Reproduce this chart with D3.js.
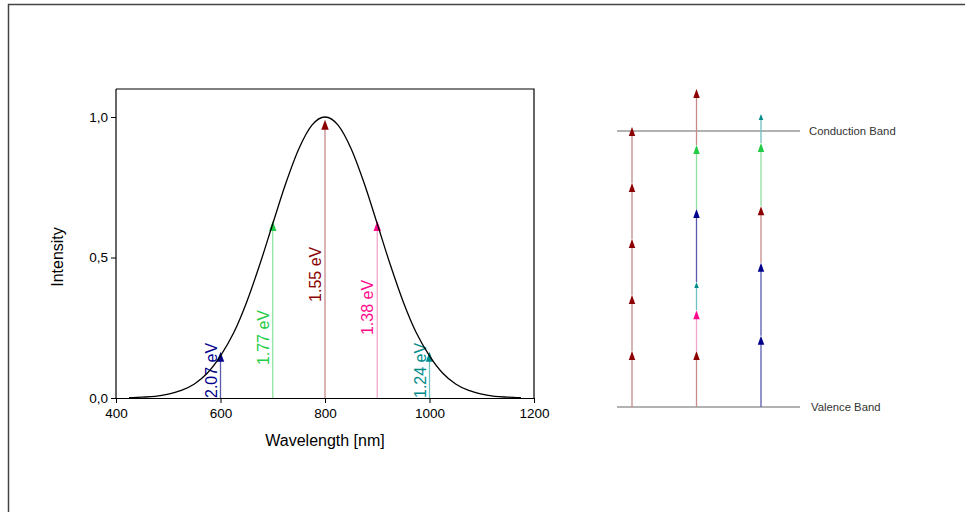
<!DOCTYPE html>
<html><head><meta charset="utf-8">
<script src="https://cdn.jsdelivr.net/npm/d3@7"></script>
<style>body{margin:0;background:#fff}svg{display:block;font-family:"Liberation Sans",Arial,sans-serif}</style>
</head><body><svg id="c" width="965" height="512"></svg>
<script>
// Spectrum curve
const wavelengths = [425,450,475,500,525,550,575,600,625,650,675,700,725,750,775,800,825,850,875,900,925,950,975,1000,1025,1050,1075,1100,1125,1150,1175];
const intensity   = [0.001,0.003,0.006,0.014,0.027,0.050,0.089,0.150,0.231,0.341,0.474,0.620,0.764,0.887,0.971,1.0,0.971,0.887,0.764,0.620,0.474,0.341,0.231,0.150,0.089,0.050,0.027,0.014,0.006,0.003,0.001];
// Arrows in the spectrum
const arrowWl     = [600,700,800,900,1000];
const arrowTip    = [0.165,0.63,0.99,0.63,0.165];
const arrowLabels = ["2.07 eV","1.77 eV","1.55 eV","1.38 eV","1.24 eV"];
const arrowLabelAt= [0.0,0.117,0.342,0.224,0.0];
const arrowColors = ["#00008b","#22cc44","#8b0000","#ff0a8c","#008b8b"];
const lineColors  = ["#5a5ab0","#8fe0a0","#c98a8a","#f0a6cc","#70c0c0"];
const xTicks = [400,600,800,1000,1200];
const yTicks = [0,0.5,1.0];
const yTickLabels = ["0,0","0,5","1,0"];
// Band diagram (energy in eV above valence band)
const bandGap = 7.64;
const bandNames = ["Valence Band","Conduction Band"];
const columns = [0,1,2];
const col1Tips = [1.55,3.10,4.65,6.20,7.75];
const col1Colors = [2,2,2,2,2];
const col2Tips = [1.55,2.68,3.46,5.48,7.25,8.80];
const col2Colors = [2,3,4,0,1,2];
const col3Tips = [1.97,3.99,5.56,7.31,8.11];
const col3Colors = [0,0,2,1,4];

const svg = d3.select("#c");
svg.append("path").attr("d","M8.5,512 V4.5 H965").attr("fill","none").attr("stroke","#444").attr("stroke-width",1.5);

const x = d3.scaleLinear().domain([400,1200]).range([116,534]);
const y = d3.scaleLinear().domain([0,1.0]).range([398,117]);
const yTop = y.invert(89);

const g = svg.append("g");
g.append("path").attr("d",`M${x(400)},${y(yTop)} H${x(1200)} V${y(0)}`).attr("fill","none").attr("stroke","#000").attr("stroke-width",1.2);

const xAxis = g.append("g").attr("transform",`translate(0,${y(0)})`)
  .call(d3.axisBottom(x).tickValues(xTicks).tickSize(5).tickSizeOuter(0).tickFormat(d3.format("d")));
const yAxis = g.append("g").attr("transform",`translate(${x(400)},0)`)
  .call(d3.axisLeft(y).tickValues(yTicks).tickSize(5).tickSizeOuter(0).tickFormat((d,i)=>yTickLabels[i]));
[xAxis,yAxis].forEach(a=>{
  a.select(".domain").attr("stroke","#000").attr("stroke-width",1.2);
  a.selectAll(".tick line").attr("stroke","#000");
  a.selectAll("text").attr("fill","#000").attr("font-size",13.5).attr("font-family","Liberation Sans, Arial, sans-serif");
});
yAxis.select(".domain").attr("d",`M0,${y(0)}V${y(yTop)}`);
xAxis.selectAll("text").attr("dy","0.9em");

g.append("text").attr("x",325).attr("y",446).attr("text-anchor","middle").attr("font-size",16).text("Wavelength [nm]");
g.append("text").attr("transform","translate(63,257) rotate(-90)").attr("text-anchor","middle").attr("font-size",16).text("Intensity");

const tri = (cx,tip,w,h)=>`M${cx},${tip} L${cx-w/2},${tip+h} L${cx+w/2},${tip+h} Z`;
arrowWl.forEach((wl,i)=>{
  g.append("line").attr("x1",x(wl)).attr("x2",x(wl)).attr("y1",y(0)).attr("y2",y(arrowTip[i])+5)
    .attr("stroke",lineColors[i]).attr("stroke-width",1.3);
  g.append("path").attr("d",tri(x(wl),y(arrowTip[i]),7.5,10)).attr("fill",arrowColors[i]);
  g.append("text").attr("transform",`translate(${x(wl)-4},${y(arrowLabelAt[i])}) rotate(-90)`)
    .attr("font-size",16).attr("fill",arrowColors[i]).text(arrowLabels[i]);
});

const line = d3.line().x((d,i)=>x(wavelengths[i])).y(d=>y(d)).curve(d3.curveMonotoneX);
g.append("path").datum(intensity).attr("d",line).attr("fill","none").attr("stroke","#000").attr("stroke-width",1.3);

// Band diagram
const ey = d3.scaleLinear().domain([0,bandGap]).range([407,131]);
const cx = d3.scalePoint().domain(columns).range([632,761]);
[0,bandGap].forEach((e,i)=>{
  svg.append("line").attr("x1",617).attr("x2",800).attr("y1",ey(e)).attr("y2",ey(e)).attr("stroke","#666").attr("stroke-width",1.1);
  svg.append("text").attr("x",i===0?811:809).attr("y",ey(e)).attr("dy","0.35em").attr("font-size",11.3).attr("fill","#333").text(bandNames[i]);
});
const cols = [[col1Tips,col1Colors],[col2Tips,col2Colors],[col3Tips,col3Colors]];
cols.forEach(([tips,colors],c)=>{
  const xx = cx(c);
  let prev = 0;
  tips.forEach((t,j)=>{
    const ci = colors[j];
    const h = ci===4?6:9;
    svg.append("line").attr("x1",xx).attr("x2",xx).attr("y1",ey(prev)).attr("y2",ey(t)+h/2)
      .attr("stroke",lineColors[ci]).attr("stroke-width",1.3);
    prev = t;
  });
  tips.forEach((t,j)=>{
    const ci = colors[j];
    const small = ci===4;
    const h = small?6:9, w = small?4.5:6.5;
    svg.append("path").attr("d",tri(xx,ey(t),w,h)).attr("fill",arrowColors[ci]);
  });
});
</script></body></html>
